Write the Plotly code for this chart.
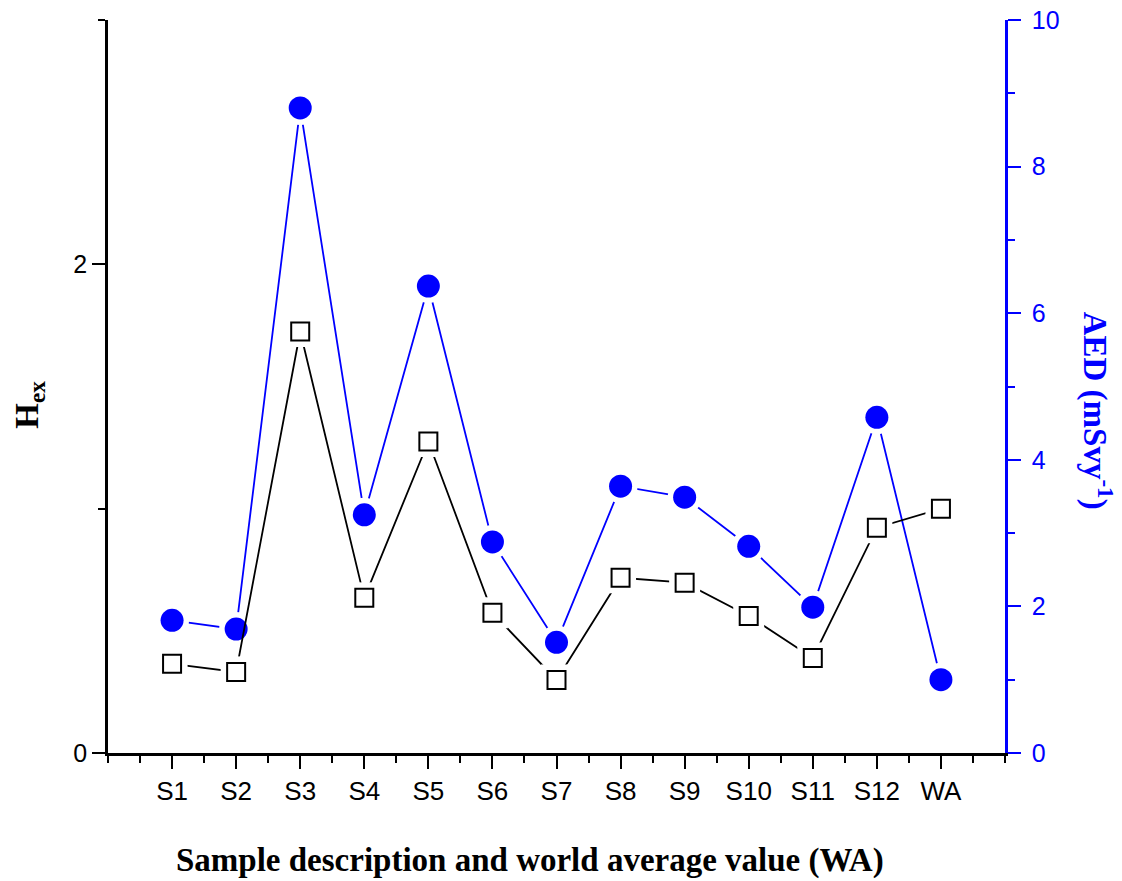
import plotly.graph_objects as go

categories = ["S1", "S2", "S3", "S4", "S5", "S6", "S7", "S8", "S9", "S10", "S11", "S12", "WA"]
hex_vals = [0.365, 0.332, 1.725, 0.635, 1.275, 0.574, 0.299, 0.717, 0.697, 0.561, 0.389, 0.922, 1.0]
aed_vals = [1.81, 1.69, 8.80, 3.25, 6.37, 2.88, 1.51, 3.64, 3.49, 2.82, 1.99, 4.58, 1.0]

xpos = list(range(1, len(categories) + 1))
n_slots = len(categories) + 1

BLUE = "#0000FF"
ARIAL = "Arial, Liberation Sans, sans-serif"
TITLEFONT = "Times New Roman, Liberation Serif, serif"
MAJ, MIN = 13, 7

fig = go.Figure()

# AED (base layer, right axis)
fig.add_trace(go.Scatter(x=xpos, y=aed_vals, mode="lines", line=dict(color=BLUE, width=1.8),
                         xaxis="x", yaxis="y", showlegend=False, hoverinfo="skip"))
fig.add_trace(go.Scatter(x=xpos, y=aed_vals, mode="markers",
                         marker=dict(symbol="circle", size=34, color="white", line=dict(width=0)),
                         xaxis="x", yaxis="y", showlegend=False, hoverinfo="skip"))
fig.add_trace(go.Scatter(x=xpos, y=aed_vals, mode="markers",
                         marker=dict(symbol="circle", size=23, color=BLUE, line=dict(width=0)),
                         xaxis="x", yaxis="y", showlegend=False, name="AED"))

# Hex (overlay layer, left axis)
fig.add_trace(go.Scatter(x=xpos, y=hex_vals, mode="lines", line=dict(color="black", width=1.8),
                         xaxis="x", yaxis="y2", showlegend=False, hoverinfo="skip"))
fig.add_trace(go.Scatter(x=xpos, y=hex_vals, mode="markers",
                         marker=dict(symbol="square", size=31, color="white", line=dict(width=0)),
                         xaxis="x", yaxis="y2", showlegend=False, hoverinfo="skip"))
fig.add_trace(go.Scatter(x=xpos, y=hex_vals, mode="markers",
                         marker=dict(symbol="square", size=18, color="white", line=dict(width=2, color="black")),
                         xaxis="x", yaxis="y2", showlegend=False, name="Hex"))

minor_x = dict(tick0=0, dtick=0.5, ticklen=MIN, tickwidth=2, tickcolor="black", showgrid=False)

fig.update_layout(
    width=1122, height=881,
    margin=dict(l=108, r=117, t=20, b=128, autoexpand=False),
    paper_bgcolor="white", plot_bgcolor="white",
    xaxis=dict(range=[0, n_slots], tickmode="array", tickvals=xpos, ticktext=categories,
               ticks="outside", ticklen=MAJ, tickwidth=2, tickcolor="black", ticklabelstandoff=0,
               showline=True, linewidth=2.5, linecolor="black", showgrid=False, zeroline=False,
               tickfont=dict(family=ARIAL, size=26, color="black"), anchor="y", automargin=False,
               minor=dict(ticks="outside", **minor_x)),
    # bottom end ticks (no labels)
    xaxis3=dict(range=[0, n_slots], overlaying="x", side="bottom", anchor="y",
                tickmode="array", tickvals=[0, n_slots], showticklabels=False, automargin=False,
                ticks="outside", ticklen=MAJ, tickwidth=2, tickcolor="black",
                showline=False, showgrid=False, zeroline=False),
    # top axis with inward ticks
    xaxis2=dict(range=[0, n_slots], overlaying="x", side="top", anchor="y",
                tickmode="array", tickvals=list(range(0, n_slots + 1)), showticklabels=False,
                ticks="inside", ticklen=MAJ, tickwidth=2, tickcolor="black", automargin=False,
                showline=True, linewidth=2.5, linecolor="black", showgrid=False, zeroline=False,
                minor=dict(ticks="inside", **minor_x)),
    yaxis=dict(range=[0, 10], side="right", anchor="x", tickmode="linear", tick0=0, dtick=2,
               ticks="outside", ticklen=MAJ, tickwidth=2, tickcolor=BLUE, ticklabelstandoff=6,
               showline=True, linewidth=2.5, linecolor=BLUE, showgrid=False, zeroline=False,
               tickfont=dict(family=ARIAL, size=25, color=BLUE), automargin=False,
               minor=dict(tick0=0, dtick=1, ticks="outside", ticklen=MIN, tickwidth=2, tickcolor=BLUE, showgrid=False)),
    yaxis2=dict(range=[0, 3], side="left", overlaying="y", anchor="x", tickmode="array", tickvals=[0, 2],
                ticks="outside", ticklen=MAJ, tickwidth=2, tickcolor="black", ticklabelstandoff=0,
                showline=True, linewidth=2.5, linecolor="black", showgrid=False, zeroline=False,
                tickfont=dict(family=ARIAL, size=25, color="black"), automargin=False,
                minor=dict(tickmode="array", tickvals=[1, 3], ticks="outside", ticklen=MIN, tickwidth=2, tickcolor="black", showgrid=False)),
    annotations=[
        dict(text="<b>Sample description and world average value (WA)</b>", xref="paper", yref="paper",
             x=0.470, y=-0.146, xanchor="center", yanchor="middle", showarrow=False,
             font=dict(family=TITLEFONT, size=33, color="black")),
        dict(text="<b>H<sub>ex</sub></b>", xref="paper", yref="paper",
             x=-0.087, y=0.475, xanchor="center", yanchor="middle", showarrow=False, textangle=-90,
             font=dict(family=TITLEFONT, size=33, color="black")),
        dict(text="<b>AED (mSvy<sup>-1</sup>)</b>", xref="paper", yref="paper",
             x=1.1026, y=0.467, xanchor="center", yanchor="middle", showarrow=False, textangle=90,
             font=dict(family=TITLEFONT, size=33, color=BLUE)),
    ],
)

fig.write_html("out.html", config={"displayModeBar": False},
               post_script="document.body.style.margin='0';")
